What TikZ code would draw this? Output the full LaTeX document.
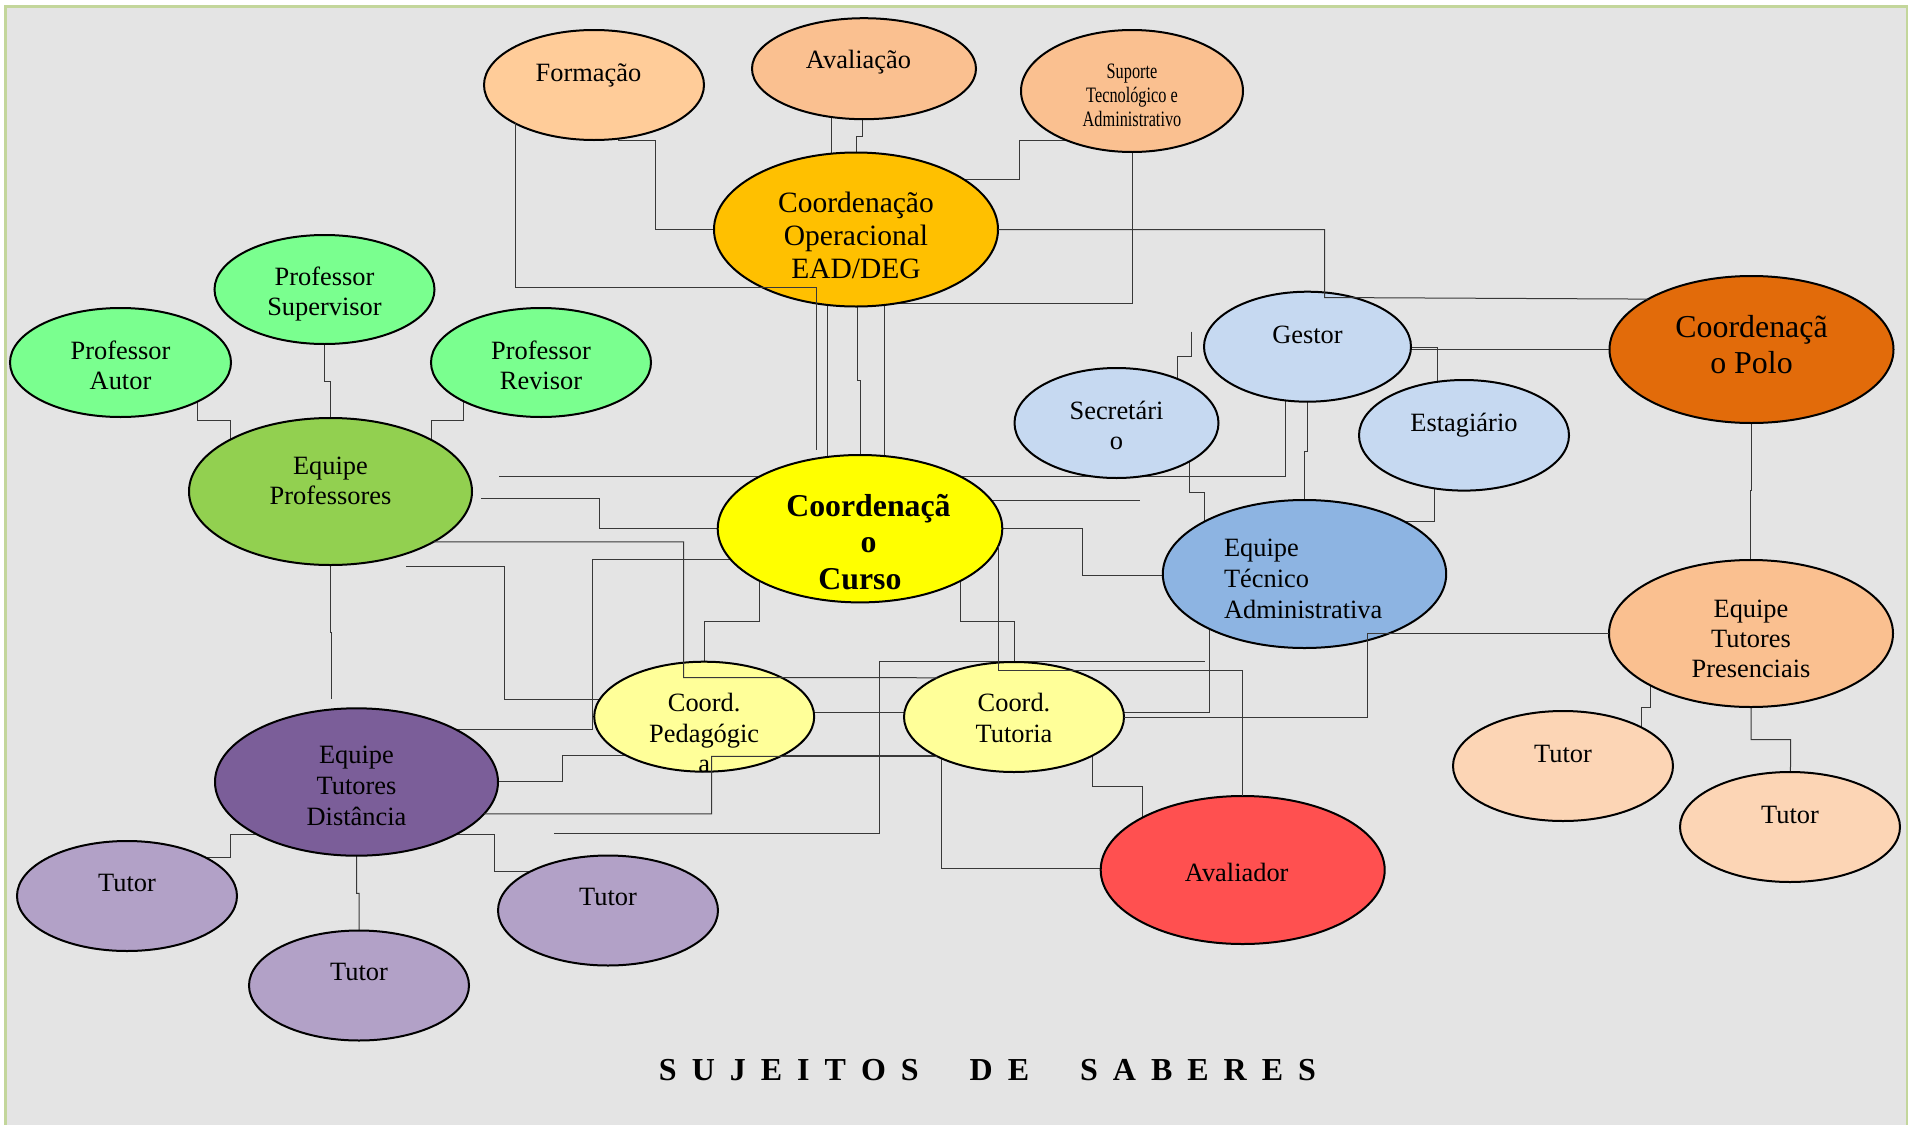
\documentclass[tikz,border=0pt]{standalone}
\usepackage{graphicx}
\usepackage{fontspec}
\setmainfont{Liberation Serif}
\usetikzlibrary{shapes.geometric}
\pgfdeclarelayer{pagebg}
\pgfdeclarelayer{lines}
\pgfsetlayers{pagebg,lines,main}

\definecolor{pagegray}{HTML}{E4E4E4}
\definecolor{framegreen}{HTML}{C3D69B}
\definecolor{cForm}{HTML}{FFCC99}
\definecolor{cAval}{HTML}{FAC090}
\definecolor{cOp}{HTML}{FFC000}
\definecolor{cProf}{HTML}{7AFF8F}
\definecolor{cEqProf}{HTML}{92D050}
\definecolor{cCurso}{HTML}{FFFF00}
\definecolor{cCoord}{HTML}{FFFF99}
\definecolor{cAdm}{HTML}{C6D9F1}
\definecolor{cETA}{HTML}{8DB4E2}
\definecolor{cPolo}{HTML}{E26B0A}
\definecolor{cETP}{HTML}{FAC090}
\definecolor{cTutP}{HTML}{FCD5B5}
\definecolor{cAvalr}{HTML}{FF5050}
\definecolor{cETD}{HTML}{7B5E99}
\definecolor{cTutD}{HTML}{B2A1C7}

% text inside an ellipse: #1 = raise of the first baseline
\newcommand{\etxt}[2]{\raisebox{#1}[0pt][0pt]{\makebox[0pt][c]{\begin{tabular}[t]{@{}c@{}}#2\end{tabular}}}}
\newcommand{\tls}{\hspace{7.5pt}}
\newcommand{\tws}{\hspace{25.5pt}}

\begin{document}
\begin{tikzpicture}[x=0.5pt,y=-0.5pt,
  ell/.style={ellipse, draw=black, line width=1pt, inner sep=0pt, outer sep=0pt},
  conn/.style={draw=black!78, line width=0.5pt},
  nf/.style={font=\fontsize{13.2}{15.3}\selectfont}]

\useasboundingbox (0,0) rectangle (1918,1125);
\begin{pgfonlayer}{pagebg}
  \fill[white] (0,0) rectangle (1918,1125);
  \draw[framegreen, line width=1.3pt, fill=pagegray] (5.5,6.5) rectangle (1907,1140);
\end{pgfonlayer}

% ---------- nodes ----------
\node[ell, nf, fill=cForm, minimum width=110pt, minimum height=55pt] (formacao) at (594,85) {\etxt{1.65pt}{\hspace*{-5.5pt}Formação}};
\node[ell, nf, fill=cAval, minimum width=112pt, minimum height=50.5pt] (avaliacao) at (864,68.7) {\etxt{0.2pt}{\hspace*{-5.5pt}Avaliação}};
\node[ell, fill=cAval, minimum width=111pt, minimum height=61pt, font=\fontsize{11}{12}\selectfont] (suporte) at (1132,91)
  {\etxt{6.35pt}{\scalebox{0.74}[1]{Suporte}\\\scalebox{0.74}[1]{Tecnológico e}\\\scalebox{0.74}[1]{Administrativo}}};
\node[ell, fill=cOp, minimum width=142pt, minimum height=77pt, font=\fontsize{14.75}{16.6}\selectfont] (coordop) at (856,229.5)
  {\etxt{8.75pt}{Coordenação\\Operacional\\EAD/DEG}};

\node[ell, nf, fill=cProf, minimum width=110pt, minimum height=54.5pt] (supervisor) at (324.5,289.5) {\etxt{2.25pt}{Professor\\Supervisor}};
\node[ell, nf, fill=cProf, minimum width=110.5pt, minimum height=54.5pt] (autor) at (120.5,362.5) {\etxt{1.6pt}{Professor\\Autor}};
\node[ell, nf, fill=cProf, minimum width=110pt, minimum height=54.5pt] (revisor) at (541,362.5) {\etxt{1.6pt}{Professor\\Revisor}};
\node[ell, nf, fill=cEqProf, minimum width=141.5pt, minimum height=73.5pt] (eqprof) at (330.5,491.5) {\etxt{8.75pt}{Equipe\\Professores}};

\node[ell, fill=cCurso, minimum width=142.3pt, minimum height=73.7pt, font=\fontsize{15.9}{18.35}\selectfont\bfseries] (curso) at (860,528.7)
  {\etxt{6.35pt}{\hspace*{8.5pt}Coordenaçã\\\hspace*{8.5pt}o\\Curso}};

\node[ell, nf, fill=cAdm, minimum width=102pt, minimum height=55pt] (secretario) at (1116.5,423) {\etxt{1.85pt}{Secretári\\o}};
\node[ell, nf, fill=cAdm, minimum width=103.5pt, minimum height=55pt] (gestor) at (1307.5,346.7) {\etxt{1.7pt}{Gestor}};
\node[ell, nf, fill=cAdm, minimum width=105pt, minimum height=55.3pt] (estagiario) at (1464,435.3) {\etxt{1.8pt}{Estagiário}};
\node[ell, fill=cPolo, minimum width=142pt, minimum height=73.5pt, font=\fontsize{15.95}{18}\selectfont] (polo) at (1751.5,349.5)
  {\etxt{5.95pt}{Coordenaçã\\o Polo}};
\node[ell, fill=cETA, minimum width=141.7pt, minimum height=74pt, font=\fontsize{13.2}{15.5}\selectfont] (eta) at (1304.5,574)
  {\raisebox{8.65pt}[0pt][0pt]{\makebox[0pt][l]{\hspace*{-40.25pt}\begin{tabular}[t]{@{}l@{}}Equipe\\Técnico\\Administrativa\end{tabular}}}};
\node[ell, fill=cETP, minimum width=142pt, minimum height=73.5pt, font=\fontsize{13.2}{15}\selectfont] (etp) at (1751,633.5)
  {\etxt{8.25pt}{Equipe\\Tutores\\Presenciais}};
\node[ell, nf, fill=cTutP, minimum width=110pt, minimum height=55pt] (tutorPa) at (1563,766) {\etxt{1.55pt}{Tutor}};
\node[ell, nf, fill=cTutP, minimum width=110pt, minimum height=55pt] (tutorPb) at (1790,827) {\etxt{1.85pt}{Tutor}};

\node[ell, nf, fill=cCoord, minimum width=110pt, minimum height=55pt] (ped) at (704.2,716.7) {\etxt{2.5pt}{Coord.\\Pedagógic\\a}};
\node[ell, nf, fill=cCoord, minimum width=110pt, minimum height=55pt] (tutoria) at (1014,717) {\etxt{2.65pt}{Coord.\\Tutoria}};
\node[ell, nf, fill=cAvalr, minimum width=142pt, minimum height=74pt] (avaliador) at (1242.7,870) {\etxt{-5.85pt}{\hspace*{-6pt}Avaliador}};

\node[ell, fill=cETD, minimum width=141.5pt, minimum height=73.7pt, font=\fontsize{13.2}{15.5}\selectfont] (etd) at (356.5,782)
  {\etxt{9.35pt}{Equipe\\Tutores\\Distância}};
\node[ell, nf, fill=cTutD, minimum width=110pt, minimum height=55pt] (tutorA) at (127,896) {\etxt{2.15pt}{Tutor}};
\node[ell, nf, fill=cTutD, minimum width=110pt, minimum height=55pt] (tutorB) at (359,985.5) {\etxt{2.4pt}{Tutor}};
\node[ell, nf, fill=cTutD, minimum width=110pt, minimum height=55pt] (tutorC) at (608,910.5) {\etxt{2.4pt}{Tutor}};

\node[font=\fontsize{16}{19}\selectfont\bfseries, anchor=base, inner sep=0pt] (titulo) at (987.5,1080)
  {S\tls U\tls J\tls E\tls I\tls T\tls O\tls S\tws D\tls E\tws S\tls A\tls B\tls E\tls R\tls E\tls S};

% ---------- free connector ends ----------
\coordinate (fe1) at (816,450);
\coordinate (fe2) at (1191.6,331.7);
\coordinate (fe3) at (554,833.5);
\coordinate (fe4) at (1205,661.7);
\coordinate (fe5) at (499,476);
\coordinate (fe6) at (1140.4,500.7);
\coordinate (fe7) at (481,498.3);
\coordinate (fe8) at (406,566);
\coordinate (fe9) at (331.5,699);

% ---------- connectors behind the ellipses ----------
\begin{pgfonlayer}{lines}
\draw[conn] (formacao.center -| 618,0) |- (655,140) |- (coordop.center);
\draw[conn] (avaliacao.center -| 831.6,0) -- (coordop.center -| 831.6,0);
\draw[conn] (avaliacao.center -| 862,0) |- (856.6,136) -- (coordop.center -| 856.6,0);
\draw[conn] (suporte.center |- 0,140.7) -| (1019,179.3) -- (coordop.center |- 0,179.3);
\draw[conn] (suporte.center) |- (884.7,303.3) -- (curso.center -| 884.7,0);
\draw[conn] (coordop.center -| 827.7,0) -- (curso.center -| 827.7,0);
\draw[conn] (coordop.center -| 857,0) |- (860.5,380) -- (curso.center -| 860.5,0);
\draw[conn] (gestor.center |- 0,349) -- (polo.center |- 0,349);
\draw[conn] (gestor.center |- 0,347.3) -| (estagiario.center -| 1437.7,0);
\draw[conn] (fe2) |- (1177.7,356) -- (secretario.center -| 1177.7,0);
\draw[conn] (secretario.center -| 1189,0) |- (1204.3,492.3) -- (eta.center -| 1204.3,0);
\draw[conn] (gestor.center -| 1307.3,0) |- (1304.3,451.7) -- (eta.center -| 1304.3,0);
\draw[conn] (estagiario.center -| 1434,0) |- (eta.center |- 0,521.7);
\draw[conn] (gestor.center -| 1285,0) |- (fe5);
\draw[conn] (curso.center |- 0,500.7) -- (fe6);
\draw[conn] (curso.center) -| (1082,575) -- (eta.center |- 0,575);
\draw[conn] (fe7) -| (599.5,528.3) -- (curso.center |- 0,528.3);
\draw[conn] (curso.center |- 0,559) -| (592.5,729) -- (etd.center |- 0,729);
\draw[conn] (fe8) -| (504.5,699) -- (ped.center |- 0,699);
\draw[conn] (curso.center -| 759.7,0) |- (704.3,621) -- (ped.center -| 704.3,0);
\draw[conn] (curso.center -| 960,0) |- (1014,621) -- (tutoria.center);
\draw[conn] (ped.center |- 0,712.7) -- (tutoria.center |- 0,712.7);
\draw[conn] (tutoria.center |- 0,712.7) -| (eta.center -| 1209.6,0);
\draw[conn] (tutoria.center -| 1092,0) |- (1142.3,786.7) -- (avaliador.center -| 1142.3,0);
\draw[conn] (ped.center |- 0,755) -| (941.3,868.5) -- (avaliador.center |- 0,868.5);
\draw[conn] (etd.center |- 0,781.7) -| (562.3,755.7) -- (ped.center |- 0,755.7);
\draw[conn] (fe3) -| (879.3,661.7) -- (fe4);
\draw[conn] (etd.center |- 0,834) -| (230,857.3) -- (tutorA.center |- 0,857.3);
\draw[conn] (etd.center) |- (359.2,893.3) -- (tutorB.center);
\draw[conn] (etd.center |- 0,834) -| (494,871.7) -- (tutorC.center |- 0,871.7);
\draw[conn] (eqprof.center -| 330.4,0) |- (331.5,632) -- (fe9);
\draw[conn] (autor.center -| 197.8,0) |- (230.8,420.7) -- (eqprof.center -| 230.8,0);
\draw[conn] (supervisor.center) |- (330.4,381) -- (eqprof.center -| 330.4,0);
\draw[conn] (revisor.center -| 463.4,0) |- (431.7,420.7) -- (eqprof.center -| 431.7,0);
\draw[conn] (polo.center) |- (1750.5,490.6) -- (etp.center -| 1750.5,0);
\draw[conn] (etp.center -| 1650.8,0) |- (1641,707) -- (tutorPa.center -| 1641,0);
\draw[conn] (etp.center) |- (1790.7,739.6) -- (tutorPb.center);
\end{pgfonlayer}

% ---------- connectors drawn over the ellipses ----------
\draw[conn] (formacao.206) |- (816,287.7) -- (fe1);
\draw[conn] (coordop.east) -| (1324.5,297.5) -- (polo.154);
\draw[conn] (eqprof.334) -| (683.7,677.7) -- (tutoria.153);
\draw[conn] (curso.353) |- (1242.7,670) -- (avaliador.north);
\draw[conn] (tutoria.east) -| (1367,633.5) -- (etp.west);
\draw[conn] (etd.346) -| (711.7,756.3) -- (tutoria.207);
\end{tikzpicture}
\end{document}
